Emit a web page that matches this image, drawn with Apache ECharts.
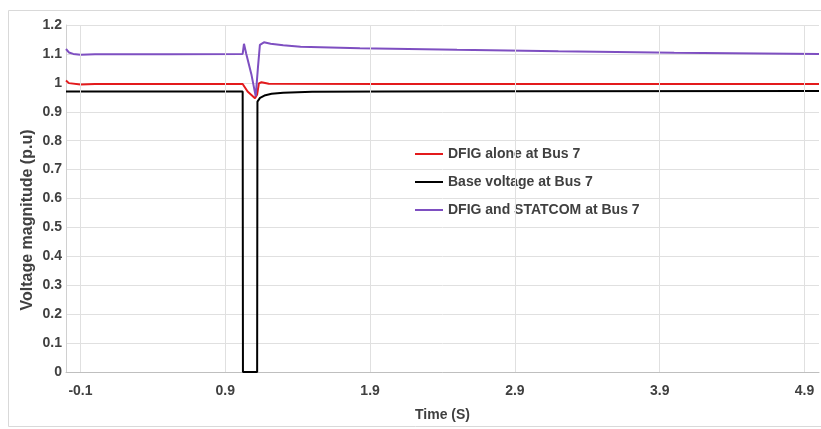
<!DOCTYPE html>
<html>
<head>
<meta charset="utf-8">
<script src="https://cdn.jsdelivr.net/npm/echarts@6/dist/echarts.min.js"></script>
<style>html,body{margin:0;padding:0;background:#fff}#c{width:821px;height:429px}</style>
</head>
<body>
<div id="c"></div>
<script>
const xTicks = [-0.1, 0.9, 1.9, 2.9, 3.9, 4.9];
const seriesNames = ['DFIG alone at Bus 7', 'Base voltage at Bus 7', 'DFIG and STATCOM at Bus 7'];
const yTitle = 'Voltage magnitude (p.u)';
const xTitle = 'Time (S)';
const dfigAlone = [[-0.2,1.008],[-0.18,0.999],[-0.1,0.994],[0,0.996],[0.5,0.996],[1.02,0.996],[1.054,0.97],[1.105,0.947],[1.12,0.96],[1.132,0.998],[1.15,1.002],[1.2,0.997],[2,0.996],[5,0.996]];
const baseVoltage = [[-0.2,0.97],[1.02,0.97],[1.022,0],[1.12,0],[1.122,0.935],[1.14,0.948],[1.17,0.956],[1.22,0.962],[1.3,0.966],[1.5,0.969],[2,0.97],[3,0.971],[5,0.972]];
const dfigStatcom = [[-0.2,1.117],[-0.18,1.105],[-0.15,1.1],[-0.1,1.097],[0,1.099],[0.5,1.099],[1.02,1.1],[1.029,1.135],[1.045,1.1],[1.08,1.03],[1.11,0.953],[1.125,1.05],[1.139,1.131],[1.167,1.14],[1.213,1.135],[1.3,1.13],[1.42,1.125],[1.83,1.12],[2.5,1.114],[3.2,1.109],[4,1.104],[5,1.1]];
const colors = ['#e31a1c', '#000000', '#7e4fc1'];

const chart = echarts.init(document.getElementById('c'));
const font = 'Liberation Sans, Arial, sans-serif';
const mk = (name, data, color, z) => ({
  name, type: 'line', data, showSymbol: false, symbol: 'none', z,
  lineStyle: { color, width: 2 }, itemStyle: { color }, animation: false
});
chart.setOption({
  animation: false,
  graphic: [
    { type: 'rect', shape: { x: 8.5, y: 10.5, width: 830, height: 416 }, style: { fill: 'none', stroke: '#d9d9d9', lineWidth: 1 } },
    { type: 'text', x: 28, y: 220, rotation: Math.PI / 2,
      style: { text: yTitle, fontFamily: font, fontWeight: 'bold', fontSize: 16, fill: '#404040', align: 'center', verticalAlign: 'middle' } }
  ],
  grid: { left: 66, right: 2, top: 25, bottom: 57 },
  legend: {
    orient: 'vertical', left: 410, top: 142, itemWidth: 28, itemHeight: 2, itemGap: 14,
    icon: 'rect',
    textStyle: { fontFamily: font, fontWeight: 'bold', fontSize: 14, color: '#404040' },
    data: seriesNames
  },
  xAxis: {
    type: 'value', min: -0.2, max: 5.0,
    name: xTitle, nameLocation: 'middle', nameGap: 36,
    nameTextStyle: { fontFamily: font, fontWeight: 'bold', fontSize: 14, color: '#404040' },
    axisLine: { show: true, onZero: false, lineStyle: { color: '#bfbfbf' } },
    axisTick: { show: false, customValues: xTicks },
    axisLabel: { customValues: xTicks, fontFamily: font, fontWeight: 'bold', fontSize: 14, color: '#404040', margin: 12 },
    splitLine: { show: false }
  },
  yAxis: {
    type: 'value', min: 0, max: 1.2, interval: 0.1,
    axisLine: { show: true, onZero: false, lineStyle: { color: '#d0d0d0' } },
    axisTick: { show: false },
    axisLabel: { fontFamily: font, fontWeight: 'bold', fontSize: 14, color: '#404040', margin: 4,
      formatter: v => String(Math.round(v * 10) / 10) },
    splitLine: { show: true, lineStyle: { color: '#e0e0e0' } }
  },
  series: [
    {
      type: 'line', data: [], silent: true, z: 1,
      markLine: {
        silent: true, symbol: 'none', label: { show: false }, animation: false,
        lineStyle: { color: '#e0e0e0', type: 'solid', width: 1 },
        data: xTicks.map(v => ({ xAxis: v }))
      }
    },
    mk(seriesNames[0], dfigAlone, colors[0], 3),
    mk(seriesNames[1], baseVoltage, colors[1], 2),
    mk(seriesNames[2], dfigStatcom, colors[2], 4)
  ]
});
</script>
</body>
</html>
